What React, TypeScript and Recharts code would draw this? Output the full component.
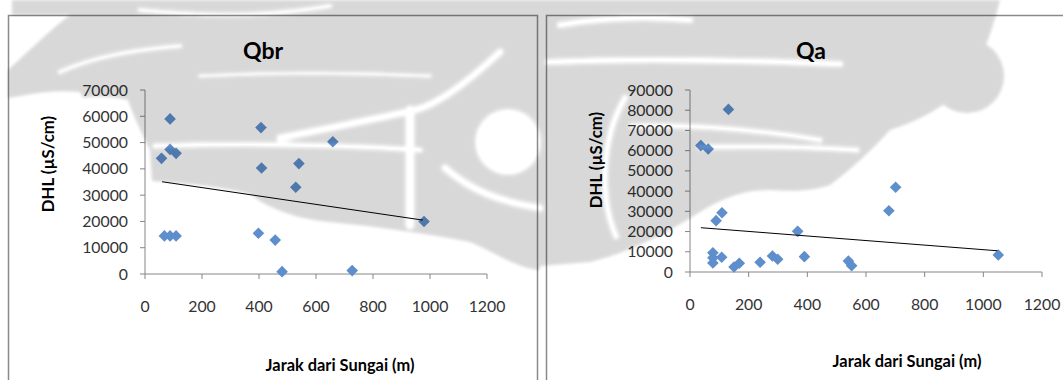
import React from 'react';
import { ScatterChart, Scatter, XAxis, YAxis } from 'recharts';

// Qbr: distance from river (m) and conductivity DHL (µS/cm)
const qbrDistance = [58, 88, 88, 109, 68, 88, 109, 407, 409, 398, 457, 481, 529, 540, 659, 727, 979];
const qbrDhl = [44000, 59000, 47400, 45900, 14500, 14500, 14500, 55700, 40300, 15500, 12900, 900, 33000, 42000, 50300, 1300, 20000];
const qbrTrendX = [60, 975];
const qbrTrendY = [35100, 20500];

// Qa: distance from river (m) and conductivity DHL (µS/cm)
const qaDistance = [37, 62, 131, 89, 109, 78, 78, 78, 108, 150, 168, 239, 281, 299, 367, 390, 540, 551, 678, 701, 1051];
const qaDhl = [62500, 60800, 80400, 25400, 29300, 9500, 7000, 4500, 7300, 2500, 4300, 4800, 7900, 6300, 20100, 7600, 5400, 3100, 30300, 41900, 8400];
const qaTrendX = [37, 1048];
const qaTrendY = [21900, 10500];

const xTicks = [0, 200, 400, 600, 800, 1000, 1200];
const qbrYTicks = [0, 10000, 20000, 30000, 40000, 50000, 60000, 70000];
const qaYTicks = [0, 10000, 20000, 30000, 40000, 50000, 60000, 70000, 80000, 90000];

const xTitle = 'Jarak dari Sungai (m)';
const yTitle = 'DHL (µS/cm)';

const FONT = 'Lato, "Open Sans", sans-serif';
const AXIS = '#868686';
const MARKER = '#5e8fcc';

const toPoints = (xs: number[], ys: number[]) => xs.map((x, i) => ({ x, y: ys[i] }));

const Diamond = (props: any) => {
  const { cx, cy } = props;
  if (cx == null || cy == null) return <g />;
  const r = 5.8;
  return <path d={`M${cx},${cy - r}L${cx + r},${cy}L${cx},${cy + r}L${cx - r},${cy}Z`} fill={MARKER} />;
};

const NoMarker = () => <g />;

const tickStyle = { fontSize: 15.8, fill: '#333', fontFamily: FONT };

type PanelProps = {
  left: number;
  width: number;
  margin: { top: number; right: number; bottom: number; left: number };
  title: string;
  titlePos: [number, number];
  xLabelPos: [number, number];
  yLabelPos: [number, number];
  points: { x: number; y: number }[];
  trend: { x: number; y: number }[];
  yMax: number;
  yTicks: number[];
};

const Panel = (p: PanelProps) => (
  <div style={{ position: 'absolute', left: p.left, top: 0, width: p.width, height: 380 }}>
    <ScatterChart width={p.width} height={380} margin={p.margin}>
      <XAxis
        type="number"
        dataKey="x"
        domain={[0, 1200]}
        ticks={xTicks}
        interval={0}
        height={30}
        tickSize={5}
        tickMargin={22}
        stroke={AXIS}
        tick={tickStyle}
      />
      <YAxis
        type="number"
        dataKey="y"
        domain={[0, p.yMax]}
        ticks={p.yTicks}
        interval={0}
        width={60}
        tickSize={5}
        tickMargin={12}
        stroke={AXIS}
        tick={tickStyle}
      />
      <Scatter data={p.points} shape={Diamond} isAnimationActive={false} />
      <Scatter
        data={p.trend}
        shape={NoMarker}
        line={{ stroke: '#000', strokeWidth: 1 }}
        isAnimationActive={false}
      />
      <text x={p.titlePos[0]} y={p.titlePos[1]} textAnchor="middle" dominantBaseline="central"
        style={{ fontFamily: FONT, fontSize: 23, fontWeight: 700, fill: '#000' }}>
        {p.title}
      </text>
      <text x={p.xLabelPos[0]} y={p.xLabelPos[1]} textAnchor="middle" dominantBaseline="central"
        style={{ fontFamily: FONT, fontSize: 16.4, fontWeight: 700, fill: '#000' }}>
        {xTitle}
      </text>
      <text x={p.yLabelPos[0]} y={p.yLabelPos[1]} textAnchor="middle" dominantBaseline="central"
        transform={`rotate(-90 ${p.yLabelPos[0]} ${p.yLabelPos[1]})`}
        style={{ fontFamily: FONT, fontSize: 16.8, fontWeight: 700, fill: '#000' }}>
        {yTitle}
      </text>
    </ScatterChart>
  </div>
);

// Faint background emblem printed across the page, darkening whatever lies under it
const Watermark = () => (
  <svg width={1063} height={380} style={{ position: 'absolute', left: 0, top: 0, pointerEvents: 'none' }}>
    <defs>
      <filter id="soft" x="-5%" y="-5%" width="110%" height="110%">
        <feGaussianBlur stdDeviation="1.6" />
      </filter>
      <mask id="emblem" maskUnits="userSpaceOnUse" x="0" y="0" width="1063" height="380">
        <g filter="url(#soft)">
          {/* left mass */}
          <path fill="#fff" d="M12 0 L540 0 L540 270 C515 268 495 252 470 242 C430 234 380 227 330 222 C290 218 265 206 250 194 C220 186 180 183 152 181 L150 150 C140 130 132 112 128 100 C110 96 95 96 83 98 L80 92 C60 90 40 92 20 96 L8 98 L8 70 C30 50 50 30 70 15 L12 15 Z" />
          {/* right mass */}
          <path fill="#fff" d="M540 0 L1000 0 C990 40 975 80 950 100 C925 118 905 125 890 130 C872 150 850 170 830 185 C810 192 790 191 770 190 C740 190 720 200 700 212 C660 238 620 255 590 262 L540 266 Z" />
          <circle fill="#fff" cx={967} cy={76} r={37} />
          {/* light swirls through the emblem */}
          <g fill="none" stroke="#000" strokeLinecap="round">
            <path strokeWidth={6} d="M60 72 C90 58 130 50 180 46" />
            <path strokeWidth={6} d="M140 10 C200 16 260 18 330 6" />
            <path strokeWidth={5} d="M200 76 C280 72 350 72 430 76" />
            <path strokeWidth={7} d="M155 146 C250 143 340 145 420 150" />
            <path strokeWidth={9} d="M280 138 C330 128 380 118 415 110 C440 104 470 80 500 52" />
            <path strokeWidth={11} d="M410 110 L410 225" />
            <path strokeWidth={9} d="M445 168 C470 190 500 202 540 208" />
            <path strokeWidth={8} d="M548 62 C640 58 740 60 840 64" />
            <path strokeWidth={8} d="M560 25 C600 18 640 16 690 20" />
            <path strokeWidth={8} d="M625 98 C600 140 600 200 616 236" />
            <path strokeWidth={7} d="M632 126 C700 124 760 130 820 140" />
            <path strokeWidth={7} d="M700 147 C760 146 810 147 857 150" />
          </g>
          <circle fill="#000" cx={508} cy={142} r={34} />
        </g>
      </mask>
    </defs>
    <rect x={0} y={0} width={1063} height={380} fill="#000" opacity={0.15} mask="url(#emblem)" />
  </svg>
);

const Frames = () => (
  <svg width={1063} height={380} style={{ position: 'absolute', left: 0, top: 0 }}>
    <g fill="none" stroke="#8a8a8a" strokeWidth={1.5}>
      <path d="M8.5 380 L8.5 15.5 L537.5 15.5 L537.5 380" />
      <path d="M546.5 380 L546.5 15.5 L1063 15.5" />
    </g>
  </svg>
);

export default function App() {
  const qbrPoints = toPoints(qbrDistance, qbrDhl);
  const qbrTrend = toPoints(qbrTrendX, qbrTrendY);
  const qaPoints = toPoints(qaDistance, qaDhl);
  const qaTrend = toPoints(qaTrendX, qaTrendY);
  return (
    <div style={{ position: 'absolute', left: 0, top: 0, width: 1063, height: 380, background: '#fff', overflow: 'hidden' }}>
      <Frames />
      <Panel
        left={0}
        width={540}
        margin={{ top: 90, right: 53, bottom: 76, left: 85 }}
        title="Qbr"
        titlePos={[263, 50]}
        xLabelPos={[340, 364]}
        yLabelPos={[47, 164]}
        points={qbrPoints}
        trend={qbrTrend}
        yMax={70000}
        yTicks={qbrYTicks}
      />
      <Panel
        left={540}
        width={523}
        margin={{ top: 90, right: 21, bottom: 78, left: 90 }}
        title="Qa"
        titlePos={[271, 50]}
        xLabelPos={[367, 360]}
        yLabelPos={[55, 160]}
        points={qaPoints}
        trend={qaTrend}
        yMax={90000}
        yTicks={qaYTicks}
      />
      <Watermark />
    </div>
  );
}
